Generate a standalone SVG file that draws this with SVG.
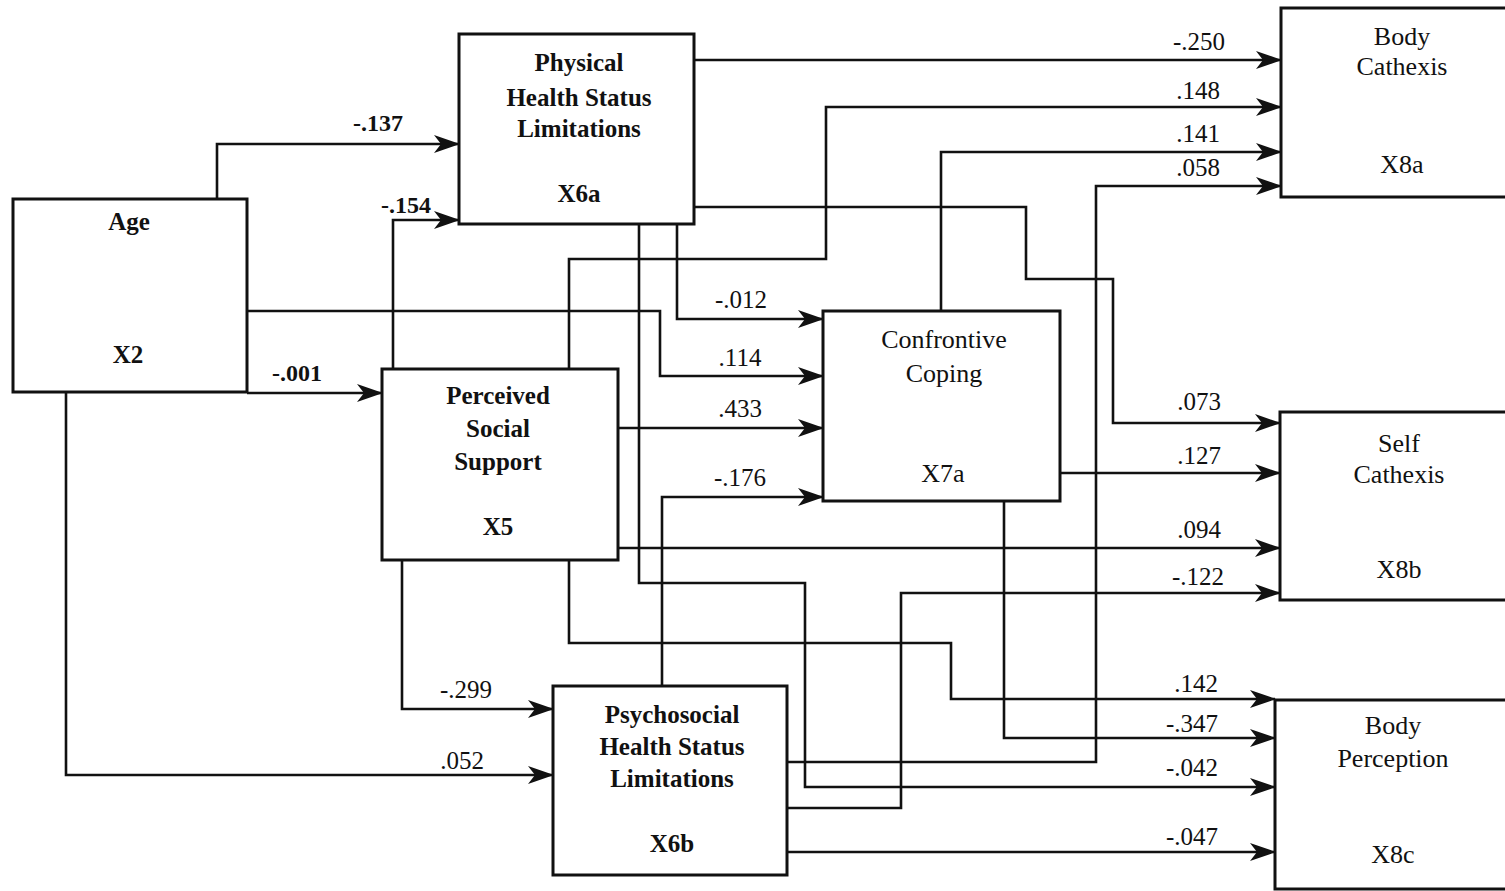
<svg xmlns="http://www.w3.org/2000/svg" width="1505" height="891" viewBox="0 0 1505 891">
<style>
.box{fill:#fff;stroke:#111;stroke-width:3}
.c{fill:none;stroke:#111;stroke-width:2.6;marker-end:url(#ah)}
.t{font-family:"Liberation Serif","Times New Roman",serif;font-size:25px;font-weight:bold;fill:#111;text-anchor:middle}
.tr{font-family:"Liberation Serif","Times New Roman",serif;font-size:26px;fill:#111;text-anchor:middle}
.l{font-family:"Liberation Serif","Times New Roman",serif;font-size:25px;fill:#111;text-anchor:middle}
.lb{font-family:"Liberation Serif","Times New Roman",serif;font-size:24px;font-weight:bold;fill:#111;text-anchor:middle}
</style>
<defs>
<marker id="ah" viewBox="0 0 26 18" refX="25" refY="9" markerWidth="26" markerHeight="18" markerUnits="userSpaceOnUse" orient="auto">
<path d="M0,0 L26,9 L0,18 L7,9 z" fill="#111"/>
</marker>
</defs>
<rect width="1505" height="891" fill="#fff"/>
<g id="connectors">
<path class="c" d="M217,199 V144 H459"/>
<path class="c" d="M393,369 V220 H459"/>
<path class="c" d="M247,311 H660 V376 H823"/>
<path class="c" d="M247,393 H382"/>
<path class="c" d="M66,392 V775 H553"/>
<path class="c" d="M402,560 V709 H553"/>
<path class="c" d="M677,224 V319 H823"/>
<path class="c" d="M618,428 H823"/>
<path class="c" d="M662,686 V497 H823"/>
<path class="c" d="M694,60 H1281"/>
<path class="c" d="M569,369 V259 H826 V107 H1281"/>
<path class="c" d="M941,311 V152 H1281"/>
<path class="c" d="M787,762 H1096 V186 H1281"/>
<path class="c" d="M694,207 H1026 V279 H1113 V423 H1280"/>
<path class="c" d="M1060,473 H1280"/>
<path class="c" d="M618,548 H1280"/>
<path class="c" d="M787,808 H901 V593 H1280"/>
<path class="c" d="M569,560 V643 H951 V699 H1275"/>
<path class="c" d="M1004,501 V738 H1275"/>
<path class="c" d="M639,224 V583 H805 V787 H1275"/>
<path class="c" d="M787,852 H1275"/>
<text class="lb" x="378" y="131">-.137</text>
<text class="lb" x="406" y="213">-.154</text>
<text class="lb" x="297" y="381">-.001</text>
<text class="l" x="741" y="308">-.012</text>
<text class="l" x="740" y="366">.114</text>
<text class="l" x="740" y="417">.433</text>
<text class="l" x="740" y="486">-.176</text>
<text class="l" x="466" y="698">-.299</text>
<text class="l" x="462" y="769">.052</text>
<text class="l" x="1199" y="50">-.250</text>
<text class="l" x="1198" y="99">.148</text>
<text class="l" x="1198" y="142">.141</text>
<text class="l" x="1198" y="176">.058</text>
<text class="l" x="1199" y="410">.073</text>
<text class="l" x="1199" y="464">.127</text>
<text class="l" x="1199" y="538">.094</text>
<text class="l" x="1198" y="585">-.122</text>
<text class="l" x="1196" y="692">.142</text>
<text class="l" x="1192" y="732">-.347</text>
<text class="l" x="1192" y="776">-.042</text>
<text class="l" x="1192" y="845">-.047</text>
</g>
<g id="age">
<rect class="box" x="13" y="199" width="234" height="193"/>
<text class="t" x="129" y="230">Age</text>
<text class="t" x="128" y="363">X2</text>
</g>
<g id="x6a">
<rect class="box" x="459" y="34" width="235" height="190"/>
<text class="t" x="579" y="71">Physical</text>
<text class="t" x="579" y="106">Health Status</text>
<text class="t" x="579" y="137">Limitations</text>
<text class="t" x="579" y="202">X6a</text>
</g>
<g id="x5">
<rect class="box" x="382" y="369" width="236" height="191"/>
<text class="t" x="498" y="404">Perceived</text>
<text class="t" x="498" y="437">Social</text>
<text class="t" x="498" y="470">Support</text>
<text class="t" x="498" y="535">X5</text>
</g>
<g id="x7a">
<rect class="box" x="823" y="311" width="237" height="190"/>
<text class="tr" x="944" y="348">Confrontive</text>
<text class="tr" x="944" y="382">Coping</text>
<text class="tr" x="943" y="482">X7a</text>
</g>
<g id="x6b">
<rect class="box" x="553" y="686" width="234" height="189"/>
<text class="t" x="672" y="723">Psychosocial</text>
<text class="t" x="672" y="755">Health Status</text>
<text class="t" x="672" y="787">Limitations</text>
<text class="t" x="672" y="852">X6b</text>
</g>
<g id="x8a">
<rect class="box" x="1281" y="8" width="240" height="189"/>
<text class="tr" x="1402" y="45">Body</text>
<text class="tr" x="1402" y="75">Cathexis</text>
<text class="tr" x="1402" y="173">X8a</text>
</g>
<g id="x8b">
<rect class="box" x="1280" y="412" width="240" height="188"/>
<text class="tr" x="1399" y="452">Self</text>
<text class="tr" x="1399" y="483">Cathexis</text>
<text class="tr" x="1399" y="578">X8b</text>
</g>
<g id="x8c">
<rect class="box" x="1275" y="700" width="245" height="189"/>
<text class="tr" x="1393" y="734">Body</text>
<text class="tr" x="1393" y="767">Perception</text>
<text class="tr" x="1393" y="863">X8c</text>
</g>
</svg>
